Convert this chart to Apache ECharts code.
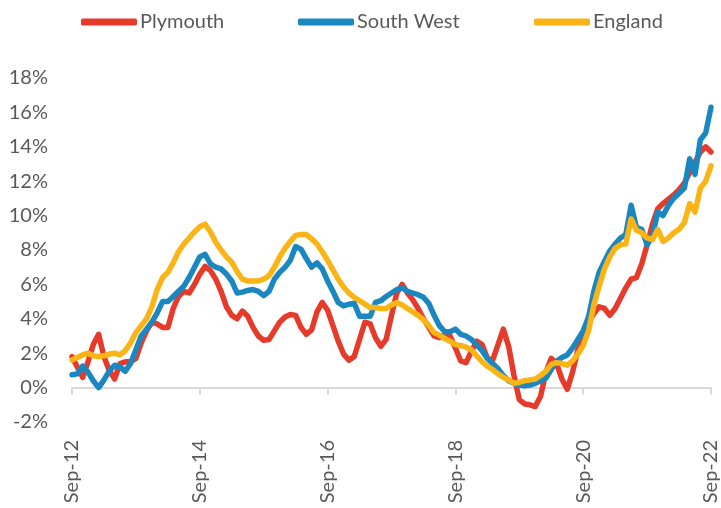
<!DOCTYPE html>
<html lang="en">
<head>
<meta charset="UTF-8" />
<title>Plymouth, South West, England</title>
<script src="https://cdn.jsdelivr.net/npm/echarts@6/dist/echarts.min.js"></script>
<style>
  html, body { margin: 0; padding: 0; background: #fff; }
  #chart { width: 721px; height: 508px; }
</style>
</head>
<body>
<div id="chart"></div>
<script>
// monthly, Sep-12 .. Sep-22
var monthNames = ['Jan', 'Feb', 'Mar', 'Apr', 'May', 'Jun', 'Jul', 'Aug', 'Sep', 'Oct', 'Nov', 'Dec'];
var categories = [];
for (var k = 0; k <= 120; k++) {
    var m = (8 + k) % 12;
    var y = 12 + Math.floor((8 + k) / 12);
    categories.push(monthNames[m] + '-' + y);
}

var plymouth = [
    1.8, 1.2, 0.6, 1.5, 2.5, 3.1, 1.8, 1.0, 0.5, 1.4,
    1.5, 1.5, 1.7, 2.6, 3.3, 3.8, 3.7, 3.5, 3.5, 4.6,
    5.3, 5.6, 5.5, 6.0, 6.6, 7.05, 6.8, 6.3, 5.6, 4.7,
    4.2, 4.0, 4.45, 4.15, 3.5, 3.0, 2.75, 2.8, 3.3, 3.8,
    4.1, 4.25, 4.2, 3.5, 3.1, 3.35, 4.4, 4.95, 4.5, 3.6,
    2.7, 1.95, 1.6, 1.8, 2.8, 3.8, 3.7, 2.9, 2.4, 2.8,
    4.2, 5.5, 6.0, 5.5, 5.1, 4.6, 4.0, 3.5, 3.0, 2.9,
    3.1, 3.0, 2.3, 1.55, 1.45, 2.1, 2.7, 2.5, 1.7, 1.6,
    2.5, 3.4, 2.4, 0.7, -0.7, -0.95, -1.0, -1.1, -0.5, 0.9,
    1.7, 1.4, 0.5, -0.1, 0.9, 2.2, 3.0, 3.8, 4.3, 4.7,
    4.6, 4.2, 4.6, 5.2, 5.8, 6.3, 6.4, 7.2, 8.3, 9.5,
    10.4, 10.7, 10.95, 11.2, 11.5, 11.9, 12.5, 13.1, 13.7, 14.0,
    13.7
];

var southWest = [
    0.75, 0.8, 1.25, 0.9, 0.4, 0.0, 0.45, 0.95, 1.3, 1.2,
    0.95, 1.4, 2.2, 3.0, 3.4, 3.8, 4.35, 5.0, 5.0, 5.3,
    5.6, 5.9, 6.4, 7.0, 7.6, 7.75, 7.2, 7.0, 6.9, 6.6,
    6.2, 5.5, 5.55, 5.65, 5.7, 5.6, 5.35, 5.6, 6.3, 6.7,
    7.0, 7.4, 8.2, 8.05, 7.5, 7.0, 7.25, 6.9, 6.2, 5.6,
    4.95, 4.75, 4.85, 4.9, 4.15, 4.15, 4.15, 4.95, 5.05, 5.3,
    5.5, 5.7, 5.8, 5.6, 5.5, 5.4, 5.25, 4.9, 4.2, 3.6,
    3.25, 3.25, 3.4, 3.1, 3.0, 2.8, 2.5, 2.15, 1.7, 1.4,
    1.1, 0.7, 0.4, 0.25, 0.15, 0.1, 0.15, 0.25, 0.4, 0.55,
    1.05, 1.55, 1.75, 1.9, 2.3, 2.8, 3.3, 4.1, 5.6, 6.7,
    7.35, 7.95, 8.35, 8.7, 8.9, 10.6, 9.3, 9.2, 8.3, 8.8,
    10.2, 10.0, 10.6, 11.0, 11.3, 11.6, 13.3, 12.4, 14.4, 14.8,
    16.3
];

var england = [
    1.6, 1.75, 1.9, 2.0, 1.85, 1.8, 1.85, 1.95, 2.0, 1.9,
    2.15, 2.6, 3.2, 3.6, 4.0, 4.7, 5.7, 6.4, 6.7, 7.25,
    7.9, 8.35, 8.7, 9.05, 9.35, 9.5, 9.05, 8.45, 8.0, 7.6,
    7.3, 6.75, 6.3, 6.2, 6.2, 6.2, 6.3, 6.5, 7.0, 7.6,
    8.1, 8.5, 8.85, 8.9, 8.9, 8.65, 8.35, 7.9, 7.4, 6.85,
    6.3, 5.85, 5.5, 5.25, 5.05, 4.85, 4.65, 4.65, 4.6, 4.6,
    4.8, 4.95, 4.8, 4.6, 4.4, 4.2, 3.95, 3.6, 3.2, 3.05,
    2.85, 2.7, 2.5, 2.45, 2.35, 2.2, 1.85, 1.5, 1.25, 1.05,
    0.8, 0.6, 0.45, 0.25, 0.3, 0.4, 0.45, 0.5, 0.7, 0.95,
    1.35, 1.45, 1.4, 1.3, 1.55, 1.95, 2.45, 3.3, 4.8, 5.9,
    6.9, 7.6, 8.1, 8.3, 8.35, 9.8, 9.15, 9.0, 8.7, 8.6,
    9.2, 8.5, 8.7, 9.0, 9.2, 9.6, 10.7, 10.2, 11.6, 12.0,
    12.9
];

var seriesNames = ['Plymouth', 'South West', 'England'];
var seriesColors = ['#E63B2A', '#1B87C1', '#FBB416'];
var legendLeft = [76, 293, 529];

var textColor = '#595959';
var fontFamily = 'Lato, "Open Sans", sans-serif';

var chart = echarts.init(document.getElementById('chart'), null, { renderer: 'canvas' });

function makeSeries(name, values, color) {
    return {
        name: name,
        type: 'line',
        xAxisIndex: 0,
        data: values,
        symbol: 'none',
        smooth: false,
        lineStyle: { width: 5.5, color: color, cap: 'round', join: 'round' },
        itemStyle: { color: color }
    };
}

// one legend per item so each sits where the original put it
var legends = seriesNames.map(function (name, i) {
    return {
        data: [name],
        left: legendLeft[i],
        top: 7,
        icon: 'roundRect',
        itemWidth: 56,
        itemHeight: 7,
        itemGap: 0,
        textStyle: { color: textColor, fontSize: 20, fontFamily: fontFamily, padding: [0, 0, 0, -2] }
    };
});

chart.setOption({
    animation: false,
    backgroundColor: '#ffffff',
    legend: legends,
    grid: { left: 72, right: 8, top: 78, bottom: 86 },
    xAxis: [
        {
            // axis line + ticks on the 0% line
            type: 'category',
            data: categories,
            boundaryGap: false,
            position: 'bottom',
            axisLine: { onZero: true, lineStyle: { color: '#D9D9D9', width: 2 } },
            axisTick: { show: true, interval: 23, length: 7, lineStyle: { color: '#D9D9D9', width: 2 } },
            axisLabel: { show: false },
            splitLine: { show: false }
        },
        {
            // labels below the plot
            type: 'category',
            data: categories,
            boundaryGap: false,
            position: 'bottom',
            axisLine: { show: false, onZero: false },
            axisTick: { show: false },
            axisLabel: {
                show: true,
                interval: 23,
                rotate: 90,
                margin: 18,
                padding: [0, 0, 6, 0],
                color: textColor,
                fontSize: 20,
                fontFamily: fontFamily
            },
            splitLine: { show: false }
        }
    ],
    yAxis: {
        type: 'value',
        min: -2,
        max: 18,
        interval: 2,
        axisLine: { show: false },
        axisTick: { show: false },
        splitLine: { show: false },
        axisLabel: {
            formatter: '{value}%',
            margin: 24,
            color: textColor,
            fontSize: 20,
            fontFamily: fontFamily
        }
    },
    series: [
        makeSeries(seriesNames[0], plymouth, seriesColors[0]),
        makeSeries(seriesNames[1], southWest, seriesColors[1]),
        makeSeries(seriesNames[2], england, seriesColors[2])
    ]
});
</script>
</body>
</html>
